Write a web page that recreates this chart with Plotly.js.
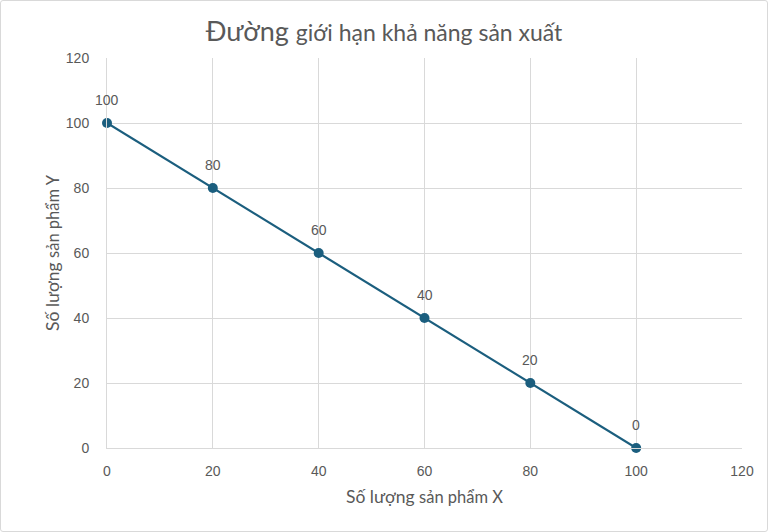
<!DOCTYPE html>
<html>
<head>
<meta charset="utf-8">
<script src="https://cdn.plot.ly/plotly-3.0.1.min.js"></script>
<style>
  body { margin: 0; background: #fff; }
  #wrap { position: relative; width: 768px; height: 532px; }
  #frame { position: absolute; left: 0; top: 0; width: 766px; height: 530px;
           border: 1px solid #d9d9d9; border-radius: 3px; pointer-events: none; }
</style>
</head>
<body>
<div id="wrap">
  <div id="graph1" style="width:768px;height:532px;"></div>
  <div id="frame"></div>
</div>
<script>
// so luong san pham X va Y
var productX = [0, 20, 40, 60, 80, 100];
var productY = [100, 80, 60, 40, 20, 0];
var labels = productY.map(function (v) { return String(v); });
var xTicks = [0, 20, 40, 60, 80, 100, 120];
var yTicks = [0, 20, 40, 60, 80, 100, 120];

var lineColor = '#1b5e7e';
var textGray = '#595959';
var tickFont = { family: 'Liberation Sans, Arial, sans-serif', size: 14, color: textGray };

var data = [
  {
    x: productX,
    y: productY,
    type: 'scatter',
    mode: 'lines+markers',
    line: { color: lineColor, width: 2.2 },
    marker: { color: lineColor, size: 10 },
    cliponaxis: false,
    hoverinfo: 'x+y'
  }
];

// nhan du lieu phia tren moi diem
var labelNotes = productX.map(function (xv, i) {
  return {
    x: xv, y: productY[i], xref: 'x', yref: 'y',
    text: labels[i], showarrow: false,
    yshift: 23,
    font: tickFont
  };
});

var layout = {
  width: 768,
  height: 532,
  margin: { l: 107, r: 26, t: 58, b: 84 },
  paper_bgcolor: '#ffffff',
  plot_bgcolor: '#ffffff',
  showlegend: false,
  annotations: labelNotes,
  title: {
    text: 'Đường <span style="font-size:23px">giới hạn khả năng sản xuất</span>',
    font: { family: 'Lato, sans-serif', size: 27, color: textGray },
    x: 0.5,
    xanchor: 'center',
    y: 0.94,
    yanchor: 'middle'
  },
  xaxis: {
    range: [0, 120],
    tickvals: xTicks,
    showgrid: true,
    gridcolor: '#d9d9d9',
    gridwidth: 1,
    zeroline: false,
    showline: true,
    linecolor: '#d9d9d9',
    ticks: '',
    ticklabelstandoff: 10,
    tickfont: tickFont,
    title: {
      text: 'Số lượng <span style="font-size:16.5px">sản phẩm X</span>',
      font: { family: 'Lato, sans-serif', size: 17.5, color: textGray },
      standoff: 12
    }
  },
  yaxis: {
    range: [0, 120],
    tickvals: yTicks,
    showgrid: true,
    gridcolor: '#d9d9d9',
    gridwidth: 1,
    zeroline: false,
    showline: true,
    linecolor: '#d9d9d9',
    ticks: '',
    ticklabelstandoff: 14,
    tickfont: tickFont,
    title: {
      text: 'Số lượng <span style="font-size:16.5px">sản phẩm Y</span>',
      font: { family: 'Lato, sans-serif', size: 17.5, color: textGray },
      standoff: 1
    }
  }
};

window.onload = function () {
  Plotly.newPlot('graph1', data, layout, { displayModeBar: false, staticPlot: true });
};
</script>
</body>
</html>
